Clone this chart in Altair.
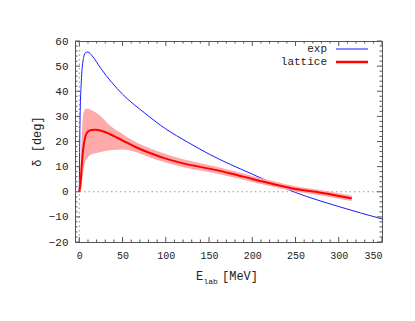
import altair as alt
import pandas as pd

# ---- data ----
exp_E = [0, 0.5, 1, 2, 3, 5, 7, 10, 15, 25, 50, 75, 100, 125, 150, 200, 250, 300, 350]
exp_d = [0, 20, 32, 42, 48, 53.5, 55.3, 55.6, 54, 49, 38.8, 31.5, 25, 19.8, 15, 7, -0.3, -5.9, -10.8]

lat_E = [0, 1.5, 3, 4, 5.5, 7, 9.5, 14, 19, 25, 35, 50, 65, 80, 100, 120, 150, 175, 200, 225, 250, 275, 300, 315]
lat_d = [0, 4, 11, 15.5, 19.5, 22, 23.8, 24.6, 24.7, 24.3, 23, 20.4, 17.8, 15.6, 13.2, 11.3, 9.2, 7.3, 5.1, 3.0, 1.1, -0.1, -1.7, -2.6]
lat_hi = [0, 12, 24, 29, 32, 33, 33, 32.5, 31.5, 30, 26.5, 23, 19.8, 17.5, 15, 12.9, 10.6, 8.6, 6.3, 4.2, 2.2, 0.9, -0.6, -1.5]
lat_lo = [0, 0.5, 3, 6.5, 10, 12, 13.5, 14.8, 15.3, 15.8, 16.5, 16.8, 15.8, 13.8, 11.6, 9.8, 7.9, 6.0, 3.9, 1.9, 0.1, -1.2, -2.8, -3.7]

x_major = [0, 50, 100, 150, 200, 250, 300, 350]
x_minor = [v for v in range(0, 351, 10) if v % 50 != 0]
y_major = [-20, -10, 0, 10, 20, 30, 40, 50, 60]
y_minor = [v for v in range(-20, 61, 2) if v % 10 != 0]

W, H = 307, 201
FONT = "Liberation Mono"
BORDER = "#555555"

xs = alt.Scale(domain=[-5, 350], nice=False, zero=False)
ys = alt.Scale(domain=[-20, 60], nice=False, zero=False)
xaxis = alt.Axis(values=x_major, domain=False, ticks=False, tickSize=0, grid=False,
                 labelFont=FONT, labelFontSize=10, labelPadding=8, labelColor="#222222",
                 title=None)
yaxis = alt.Axis(values=y_major, domain=False, ticks=False, tickSize=0, grid=False,
                 labelFont=FONT, labelFontSize=11, labelPadding=7, labelColor="#222222",
                 title=None)

def X(f="x"):
    return alt.X(f"{f}:Q", scale=xs, axis=xaxis)

def Y(f="y"):
    return alt.Y(f"{f}:Q", scale=ys, axis=yaxis)

exp_df = pd.DataFrame({"x": exp_E, "y": exp_d})
lat_df = pd.DataFrame({"x": lat_E, "y": lat_d, "lo": lat_lo, "hi": lat_hi})

zero_h = alt.Chart(pd.DataFrame({"y": [0]})).mark_rule(
    color="#999999", strokeDash=[1.5, 3], strokeWidth=1
).encode(y=Y(), x=alt.value(0), x2=alt.value(W))
zero_v = alt.Chart(pd.DataFrame({"x": [0]})).mark_rule(
    color="#999999", strokeDash=[1.5, 3], strokeWidth=1
).encode(x=X(), y=alt.value(0), y2=alt.value(H))

exp_line = alt.Chart(exp_df).mark_line(color="#1a1aff", strokeWidth=1, interpolate="monotone").encode(
    x=X(), y=Y())

band = alt.Chart(lat_df).mark_area(color="#ffaaaa", interpolate="monotone").encode(
    x=X(), y=alt.Y("lo:Q", scale=ys, axis=yaxis), y2="hi:Q")
lat_line = alt.Chart(lat_df).mark_line(color="#ff0000", strokeWidth=2, interpolate="monotone").encode(
    x=X(), y=Y())

def xticks(vals, ln):
    d = alt.Chart(pd.DataFrame({"x": vals}))
    b = d.mark_rule(color=BORDER).encode(x=X(), y=alt.value(H), y2=alt.value(H - ln))
    t = d.mark_rule(color=BORDER).encode(x=X(), y=alt.value(0), y2=alt.value(ln))
    return [b, t]

def yticks(vals, ln):
    d = alt.Chart(pd.DataFrame({"y": vals}))
    l = d.mark_rule(color=BORDER).encode(y=Y(), x=alt.value(0), x2=alt.value(ln))
    r = d.mark_rule(color=BORDER).encode(y=Y(), x=alt.value(W - ln), x2=alt.value(W))
    return [l, r]

ticks = xticks(x_major, 5) + xticks(x_minor, 2.5) + yticks(y_major, 5) + yticks(y_minor, 2.5)

def txt(s, x, y, size=11, align="left", angle=0, baseline="alphabetic"):
    return alt.Chart(pd.DataFrame({"t": [s]})).mark_text(
        font=FONT, fontSize=size, align=align, baseline=baseline, color="#222222", angle=angle
    ).encode(text="t:N", x=alt.value(x), y=alt.value(y))

# legend
leg_exp_t = txt("exp", 252, 8, size=11, align="right", baseline="middle")
leg_lat_t = txt("lattice", 252, 21, size=11, align="right", baseline="middle")
leg_exp_l = alt.Chart(pd.DataFrame({"k": ["exp"]})).mark_rule(color="#1a1aff", strokeWidth=1).encode(
    x=alt.value(261), x2=alt.value(293), y=alt.value(8))
leg_lat_l = alt.Chart(pd.DataFrame({"k": ["lattice"]})).mark_rule(color="#ff0000", strokeWidth=2.5).encode(
    x=alt.value(261), x2=alt.value(293), y=alt.value(21))

# axis titles
xt_E = txt("E", 121, 239, size=12)
xt_lab = txt("lab", 128.5, 243, size=8)
xt_mev = txt("[MeV]", 147, 239, size=12)
yt = txt("δ [deg]", -38, H / 2, size=12, align="center", angle=270, baseline="middle")

layers = [zero_h, zero_v, exp_line, band, lat_line] + ticks + [
    leg_exp_t, leg_lat_t, leg_exp_l, leg_lat_l, xt_E, xt_lab, xt_mev, yt]

chart = alt.layer(*layers).properties(
    width=W, height=H,
    autosize=alt.AutoSizeParams(type="none"),
    padding={"left": 67, "top": 33, "right": 24, "bottom": 70},
    background="white",
).configure_view(stroke=BORDER, strokeWidth=1)

chart.save("out.html", embed_options={"renderer": "svg", "actions": False})
